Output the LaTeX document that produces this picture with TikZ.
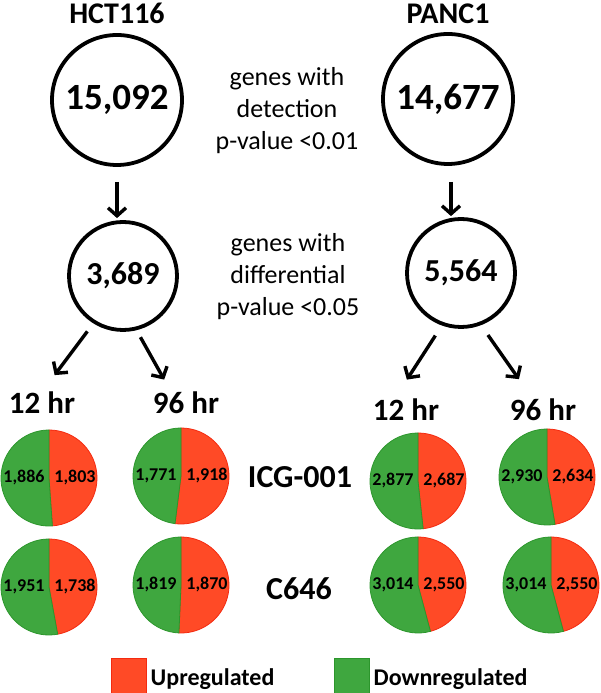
\documentclass[tikz,border=0pt]{standalone}
\usepackage{fontspec}
\setmainfont{Carlito}
\usetikzlibrary{arrows.meta,positioning,calc}
\definecolor{upred}{HTML}{FF4A26}
\definecolor{upedge}{HTML}{F42A10}
\definecolor{downgreen}{HTML}{3FA73F}
\definecolor{downedge}{HTML}{2C962C}
\tikzset{
  header/.style={font=\bfseries\fontsize{30}{34}\selectfont, inner sep=0pt},
  bigcount/.style={circle, draw=black, line width=3.8pt, minimum size=130pt, inner sep=0pt, font=\bfseries\fontsize{37}{42}\selectfont},
  midcount/.style={bigcount, minimum size=108pt, font=\bfseries\fontsize{32}{38}\selectfont},
  note/.style={align=center, inner sep=0pt, font=\fontsize{26}{32}\selectfont},
  timept/.style={font=\bfseries\fontsize{31}{36}\selectfont, inner sep=0pt},
  drug/.style={font=\bfseries\fontsize{32}{38}\selectfont, inner sep=0pt},
  slice/.style={font=\bfseries\fontsize{18}{20}\selectfont, inner sep=0pt},
  uppart/.style={fill=upred, draw=upedge, line width=0.8pt, line join=round},
  downpart/.style={fill=downgreen, draw=downedge, line width=0.8pt, line join=round},
  arr/.style={-{Straight Barb[length=8pt,width=18pt,line width=3.4pt]}, line width=3.4pt},
  keybox/.style={minimum width=35pt, minimum height=35pt, inner sep=0pt, line width=1pt},
  keytext/.style={font=\bfseries\fontsize{24}{28}\selectfont, inner sep=0pt, anchor=base west}
}
\newcommand\pr{48}

\begin{document}
\begin{tikzpicture}[x=1pt, y=1pt]
  \useasboundingbox (0,0) rectangle (600,693);
  % gene counts
  \node[bigcount] (hctA) at (117,593) {15,092};
  \node[bigcount] (pancA) at (448,594) {14,677};
  \node[header, above=9pt of hctA] (hcttitle) {HCT116};
  \node[header, above=8pt of pancA] (panctitle) {PANC1};
  \node[note] (detnote) at (287,582) {genes with\\detection\\p-value <0.01};
  \node[midcount] (hctB) at (123,417) {3,689};
  \node[midcount] (pancB) at (461,420) {5,564};
  \node[note] (difnote) at (288,416) {genes with\\differential\\p-value <0.05};
  \draw[arr, shorten <=15pt, shorten >=2pt] (hctA.south) -- (hctA.south |- hctB.north);
  \draw[arr, shorten <=16pt, shorten >=1pt] ([xshift=3pt]pancA.south) -- ([xshift=3pt]pancA.south |- pancB.north);
  % time points
  \node[timept] (hct12) at (42,290) {12 hr};
  \node[timept] (hct96) at (186,290) {96 hr};
  \node[timept] (panc12) at (406,283) {12 hr};
  \node[timept] (panc96) at (543,283) {96 hr};
  \draw[arr, shorten <=10pt, shorten >=21pt] (hctB.238) -- (hct12.north);
  \draw[arr, shorten <=8pt, shorten >=14pt] (hctB.284) -- ($(hct96.north)!.45!(hct96.north west)$);
  \draw[arr, shorten <=12pt, shorten >=23pt] (pancB.250) -- ($(panc12.north)!.35!(panc12.north west)$);
  \draw[arr, shorten <=12pt, shorten >=24pt] (pancB.291) -- ($(panc96.north)!.31!(panc96.north west)$);
  % treatments
  \node[drug] (icg) at (300,216) {ICG-001};
  \node[drug] (cpd) at (299,104) {C646};
  % pies: down (green) left, up (red) right
  \foreach \nm/\px/\py/\dn/\up/\dntxt/\uptxt in {
      h12i/49/215/1886/1803/{1,886}/{1,803},
      h96i/181/217/1771/1918/{1,771}/{1,918},
      h12c/49/106/1951/1738/{1,951}/{1,738},
      h96c/181/108/1819/1870/{1,819}/{1,870},
      p12i/418/212/2877/2687/{2,877}/{2,687},
      p96i/547/216/2930/2634/{2,930}/{2,634},
      p12c/418/108/3014/2550/{3,014}/{2,550},
      p96c/551/108/3014/2550/{3,014}/{2,550}}{
    \pgfmathsetmacro\upang{\up/(\up+\dn)*360}
    \pgfmathsetmacro\dnang{360-\upang}
    \coordinate (\nm) at (\px,\py);
    \filldraw[uppart] (\nm) -- ++(90:\pr) arc[start angle=90, delta angle=-\upang, radius=\pr] -- cycle;
    \filldraw[downpart] (\nm) -- ++(90:\pr) arc[start angle=90, delta angle=\dnang, radius=\pr] -- cycle;
    \node[slice] (\nm-dn) at ($(\nm)+(-25,0)$) {\dntxt};
    \node[slice] (\nm-up) at ($(\nm)+(26,0)$) {\uptxt};
  }
  % legend
  \node[keybox, fill=upred, draw=upedge] (upkey) at (128.5,17) {};
  \node[keytext] (uptext) at ([xshift=4pt,yshift=-9pt]upkey.east) {Upregulated};
  \node[keybox, fill=downgreen, draw=downedge] (dnkey) at (351.5,17) {};
  \node[keytext] (dntext) at ([xshift=4pt,yshift=-9pt]dnkey.east) {Downregulated};
\end{tikzpicture}
\end{document}
